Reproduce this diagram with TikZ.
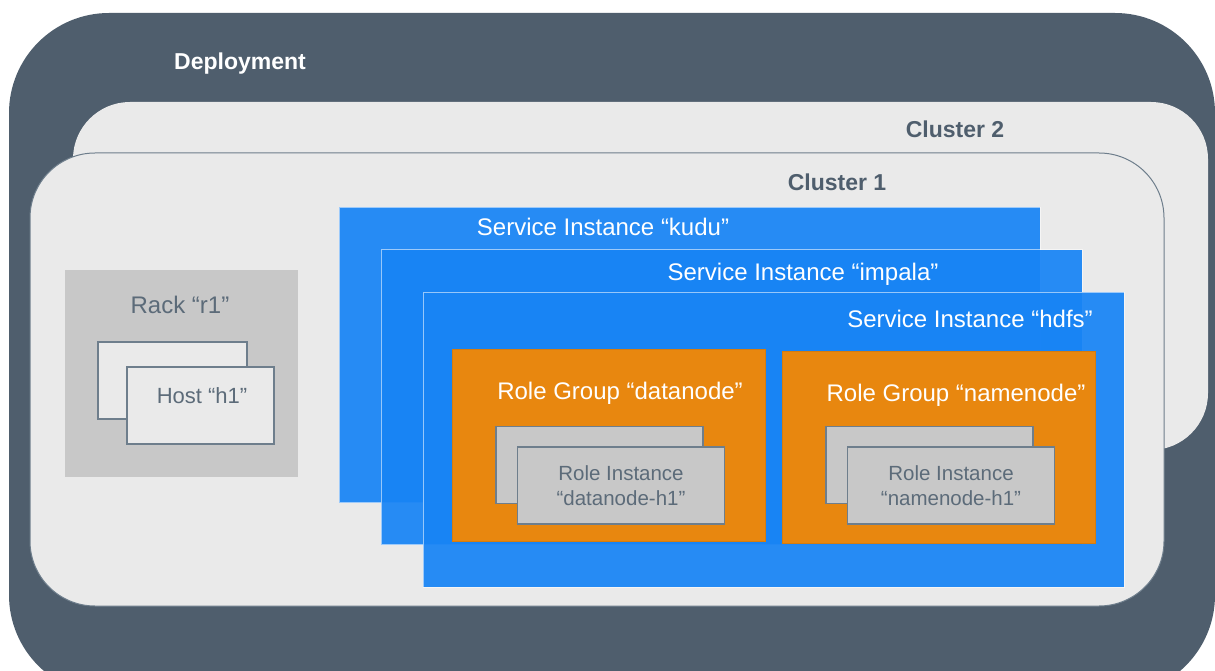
\documentclass[tikz,border=0pt]{standalone}
\usepackage{fontspec}
\setmainfont{Liberation Sans}
\usepackage{tikz}
\definecolor{DeployColor}{RGB}{79,94,109}
\definecolor{ClusterColor}{RGB}{234,234,234}
\definecolor{RackColor}{RGB}{200,200,200}
\definecolor{ServiceColor}{RGB}{24,132,245}
\definecolor{RoleColor}{RGB}{232,135,15}
\definecolor{EdgeColor}{RGB}{110,126,140}
\definecolor{LabelColor}{RGB}{92,107,121}

\begin{document}
\begin{tikzpicture}[x=1pt,y=-1pt,
  box/.style n args={3}{#1,rectangle,inner sep=0pt,outer sep=0pt,minimum width=#2pt,minimum height=#3pt},
  svc/.style={box={fill=ServiceColor,fill opacity=0.93,draw=white,draw opacity=0.55,line width=0.8pt}{701}{295}},
  inst/.style n args={2}{box={fill=#1,draw=EdgeColor,line width=1.2pt}{#2}{77}},
  lbl/.style n args={3}{anchor=base,text=#1,font=\fontsize{#2}{#3}\selectfont,inner sep=0pt},
  title/.style={anchor=base,inner sep=0pt,font=\fontsize{23}{27}\selectfont\bfseries,text=#1}]
\path[use as bounding box] (0,0) rectangle (1215,671);
\clip (0,0) rectangle (1215,671);
\fill[white] (0,0) rectangle (1215,671);
\node[box={fill=DeployColor,rounded corners=100pt}{1206}{682}] (deploy) at (612,354) {};
\node[title=white] (deploy-lbl) at (240,70) {Deployment};
\node[box={fill=ClusterColor,rounded corners=57pt}{1135}{348}] (cluster2) at (640.5,276) {};
\node[title=DeployColor] (cluster2-lbl) at (955,138) {Cluster 2};
\node[box={fill=ClusterColor,draw=EdgeColor,line width=1pt,rounded corners=65pt}{1134}{453}] (cluster1) at (597,379.5) {};
\node[title=DeployColor] (cluster1-lbl) at (837,191) {Cluster 1};
% rack with its hosts
\node[box={fill=RackColor}{233}{207}] (rack) at (181.5,373.5) {};
\node[lbl={LabelColor}{24}{28}] (rack-lbl) at (180,313) {Rack “r1”};
\node[inst={ClusterColor}{149}] (host-back) at (172.5,380.5) {};
\node[inst={ClusterColor}{147}] (host) at (200.5,405.5) {};
\node[lbl={LabelColor}{22}{26}] (host-lbl) at (202,403) {Host “h1”};
% service instances
\foreach \sname/\i/\tx/\ty in {kudu/0/603/236,impala/1/803/280,hdfs/2/970/327} {
   \node[svc] (\sname) at (689.5+42*\i,355+42.3*\i) {};
   \node[lbl={white}{24}{28}] (\sname-lbl) at (\tx,\ty) {Service Instance “\sname”};
}
% role groups
\foreach \rname/\x/\y/\tx/\ty in {datanode/608.5/445/620/399,namenode/938.5/447/956/401} {
   \node[box={fill=RoleColor,draw=RoleColor!92!black,line width=0.5pt}{313}{192}] (\rname) at (\x,\y) {};
   \node[lbl={white}{24}{28}] (\rname-lbl) at (\tx,\ty) {Role Group “\rname”};
   \node[inst={RackColor}{207}] (\rname-back) at (\x-9,465) {};
   \node[inst={RackColor}{207},text=LabelColor,align=center,font=\fontsize{20.5}{25}\selectfont] (\rname-h1) at (\x+12.5,485.5) {Role Instance\\“\rname-h1”};
}
\end{tikzpicture}
\end{document}
